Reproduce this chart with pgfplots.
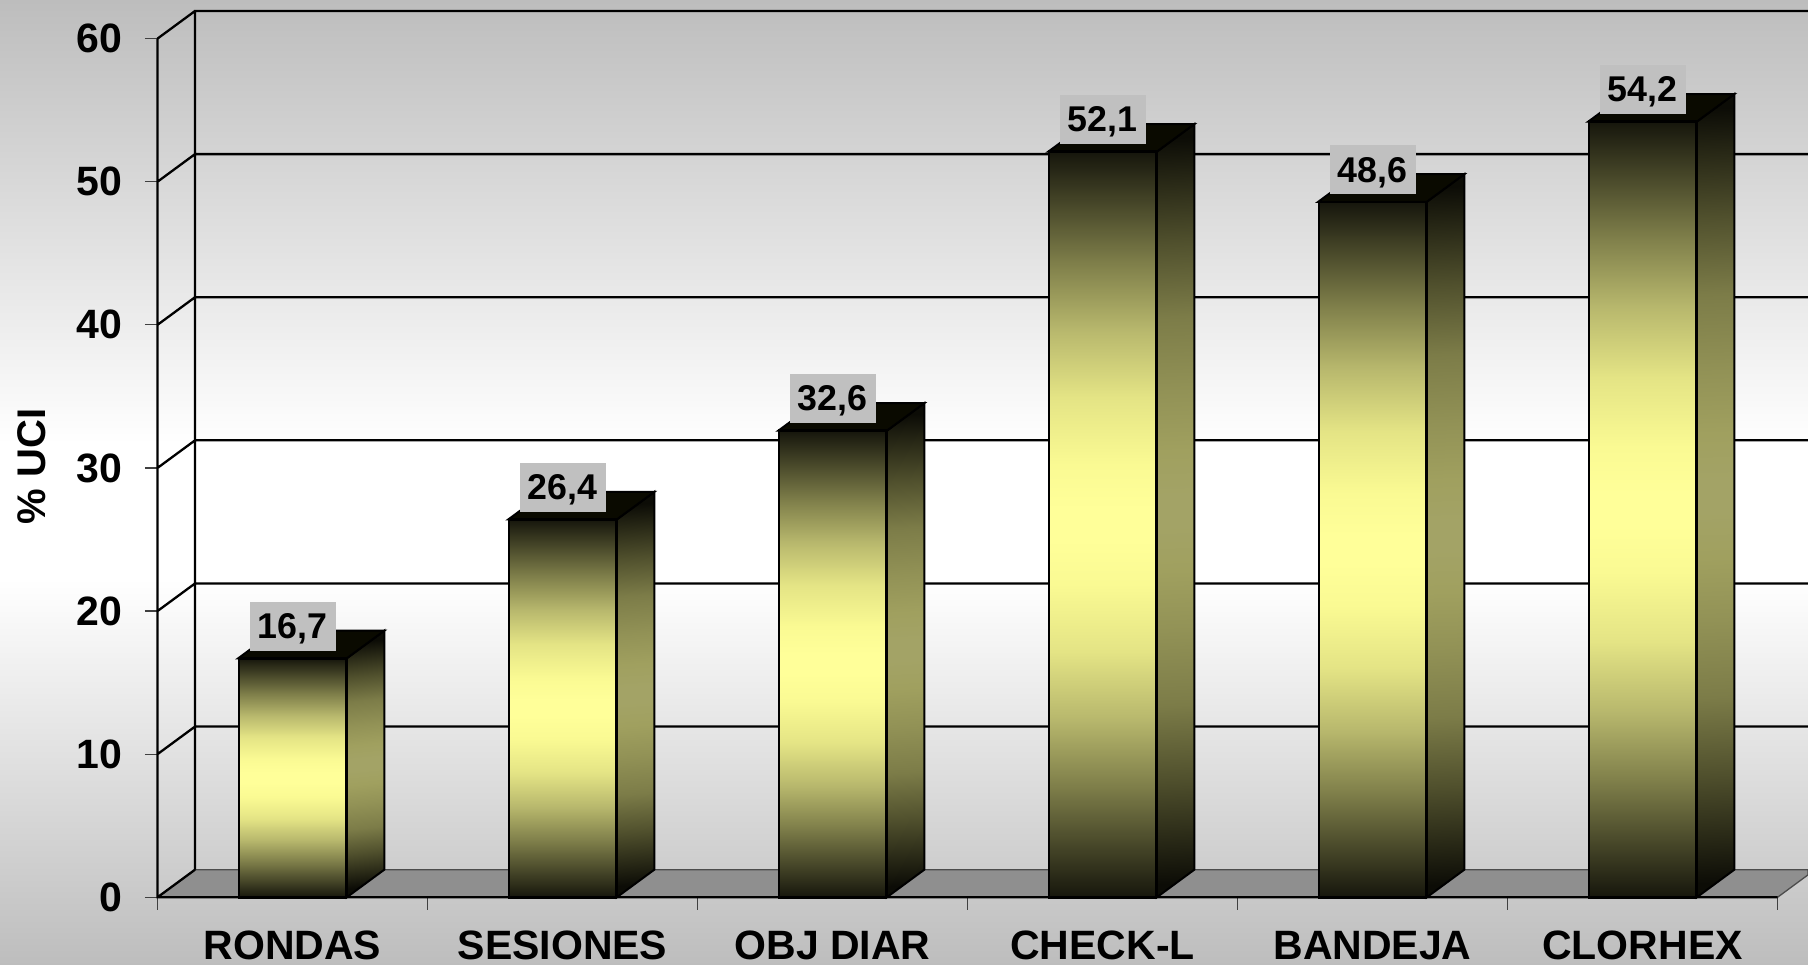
\documentclass[border=0pt]{standalone}
\usepackage{fontspec}
\setmainfont{Liberation Sans}
\usepackage{pgfplots}
\pgfplotsset{compat=1.18}

\definecolor{wallgray}{HTML}{BDBDBD}
\definecolor{floorgray}{HTML}{8F8F8F}
\definecolor{labelgray}{HTML}{C0C0C0}
\definecolor{topface}{HTML}{0A0A00}
\definecolor{fA}{HTML}{16160C}
\definecolor{fB}{HTML}{7F7F4A}
\definecolor{fC}{HTML}{B8B86D}
\definecolor{fD}{HTML}{E4E485}
\definecolor{fE}{HTML}{FAFA93}
\definecolor{fF}{HTML}{FFFF99}
\definecolor{sA}{HTML}{0C0C06}
\definecolor{sB}{HTML}{50502D}
\definecolor{sC}{HTML}{7C7C48}
\definecolor{sD}{HTML}{929256}
\definecolor{sE}{HTML}{A0A05F}
\definecolor{sF}{HTML}{A3A366}

% shading stops sit between 25bp and 75bp: that part is fitted to the path
\pgfdeclareverticalshading{pagebg}{100bp}{
  color(0bp)=(wallgray); color(25bp)=(wallgray); color(45bp)=(white); color(52bp)=(white);
  color(75bp)=(wallgray); color(100bp)=(wallgray)}
\pgfdeclareverticalshading{frontface}{100bp}{
  color(0bp)=(fA); color(25bp)=(fA); color(32.5bp)=(fB); color(37bp)=(fC); color(41.5bp)=(fD);
  color(46bp)=(fE); color(49bp)=(fF); color(51bp)=(fF); color(54bp)=(fE); color(58.5bp)=(fD);
  color(63bp)=(fC); color(67.5bp)=(fB); color(75bp)=(fA); color(100bp)=(fA)}
\pgfdeclareverticalshading{sideface}{100bp}{
  color(0bp)=(sA); color(25bp)=(sA); color(32bp)=(sB); color(37bp)=(sC); color(42bp)=(sD);
  color(46bp)=(sE); color(49bp)=(sF); color(51bp)=(sF); color(54bp)=(sE); color(58bp)=(sD);
  color(63bp)=(sC); color(68bp)=(sB); color(75bp)=(sA); color(100bp)=(sA)}

\newcommand{\bigbf}{\fontsize{41}{46}\selectfont\bfseries}

\pgfplotsset{
  sidebar/.style={shade,shading=sideface,shading angle=#1,draw=black,line width=2pt},
  topbar/.style={fill=topface,draw=black,line width=2pt},
  frontbar/.style={ybar,bar width=107pt,shade,shading=frontface,draw=black,line width=2.5pt,
    nodes near coords,point meta=y,
    every node near coord/.style={fill=labelgray,text=black,anchor=south,yshift=6.5pt,
      minimum width=86pt,minimum height=49pt,inner sep=0pt,text depth=0pt,
      font=\fontsize{35.8}{40}\selectfont\bfseries,
      /pgf/number format/.cd,fixed,fixed zerofill,precision=1,use comma,assume math mode=true}},
}

\begin{document}
\begin{tikzpicture}[x=1pt,y=1pt]
  \useasboundingbox (0,0) rectangle (1808,965);
  \shade[shading=pagebg] (0,0) rectangle (1808,965);
  \begin{axis}[
    at={(157.5pt,67.7pt)},
    anchor=south west,
    scale only axis,
    width=1650.5pt,
    height=897.3pt,
    xmin=-0.5, xmax=5.613,
    ymin=0, ymax=62.7,
    clip=false,
    axis line style={draw=none},
    tick align=outside,
    major tick length=12.5pt,
    tick style={black!75,line width=1.3pt},
    xtick pos=bottom,
    ytick pos=left,
    ytick={0,10,...,60},
    xtick={-0.5,0.5,1.5,2.5,3.5,4.5,5.5},
    x tick label as interval,
    xticklabels={RONDAS,SESIONES,OBJ DIAR,CHECK-L,BANDEJA,CLORHEX},
    tick label style={font=\bigbf},
    /pgf/number format/assume math mode=true,
    xticklabel style={yshift=-17.5pt},
    yticklabel style={xshift=-19.5pt},
    every axis y label/.style={at={(axis description cs:-0.076,0.48)},rotate=90,anchor=center},
    ylabel={\fontsize{40}{46}\selectfont\bfseries \% UCI},
    unbounded coords=jump,
  ]
    % floor
    \addplot[fill=floorgray,draw=black!70,line width=1.3pt] coordinates {
      (-0.5,0) (-0.361,1.93) (5.613,1.93) (5.613,1.57) (5.5,0)} -- cycle;
    % walls: front edge, diagonals, back grid lines
    \addplot[black,line width=2.3pt,mark=none] table {
      x y
      -0.5 60
      -0.5 0
      5.5 0
      nan nan
      -0.361 1.93
      -0.361 61.93
      5.613 61.93
      nan nan
      -0.5 60
      -0.361 61.93
      nan nan
      -0.5 50
      -0.361 51.93
      5.613 51.93
      nan nan
      -0.5 40
      -0.361 41.93
      5.613 41.93
      nan nan
      -0.5 30
      -0.361 31.93
      5.613 31.93
      nan nan
      -0.5 20
      -0.361 21.93
      5.613 21.93
      nan nan
      -0.5 10
      -0.361 11.93
      5.613 11.93
      nan nan
      -0.5 0
      -0.361 1.93
    };
    % side faces, shading angle follows the slant of the face
    \addplot[sidebar=5.9] coordinates {(0.201,0) (0.340,1.93) (0.340,18.63) (0.201,16.7)} -- cycle;
    \addplot[sidebar=3.9] coordinates {(1.201,0) (1.340,1.93) (1.340,28.33) (1.201,26.4)} -- cycle;
    \addplot[sidebar=3.2] coordinates {(2.201,0) (2.340,1.93) (2.340,34.53) (2.201,32.6)} -- cycle;
    \addplot[sidebar=2.05] coordinates {(3.201,0) (3.340,1.93) (3.340,54.03) (3.201,52.1)} -- cycle;
    \addplot[sidebar=2.19] coordinates {(4.201,0) (4.340,1.93) (4.340,50.53) (4.201,48.6)} -- cycle;
    \addplot[sidebar=1.97] coordinates {(5.201,0) (5.340,1.93) (5.340,56.13) (5.201,54.2)} -- cycle;
    % top faces
    \addplot[topbar] coordinates {(-0.201,16.7) (-0.062,18.63) (0.340,18.63) (0.201,16.7)} -- cycle;
    \addplot[topbar] coordinates {(0.799,26.4) (0.938,28.33) (1.340,28.33) (1.201,26.4)} -- cycle;
    \addplot[topbar] coordinates {(1.799,32.6) (1.938,34.53) (2.340,34.53) (2.201,32.6)} -- cycle;
    \addplot[topbar] coordinates {(2.799,52.1) (2.938,54.03) (3.340,54.03) (3.201,52.1)} -- cycle;
    \addplot[topbar] coordinates {(3.799,48.6) (3.938,50.53) (4.340,50.53) (4.201,48.6)} -- cycle;
    \addplot[topbar] coordinates {(4.799,54.2) (4.938,56.13) (5.340,56.13) (5.201,54.2)} -- cycle;
    % front faces with the value labels
    \addplot[frontbar] coordinates {(0,16.7)};
    \addplot[frontbar] coordinates {(1,26.4)};
    \addplot[frontbar] coordinates {(2,32.6)};
    \addplot[frontbar] coordinates {(3,52.1)};
    \addplot[frontbar] coordinates {(4,48.6)};
    \addplot[frontbar] coordinates {(5,54.2)};
  \end{axis}
\end{tikzpicture}
\end{document}
